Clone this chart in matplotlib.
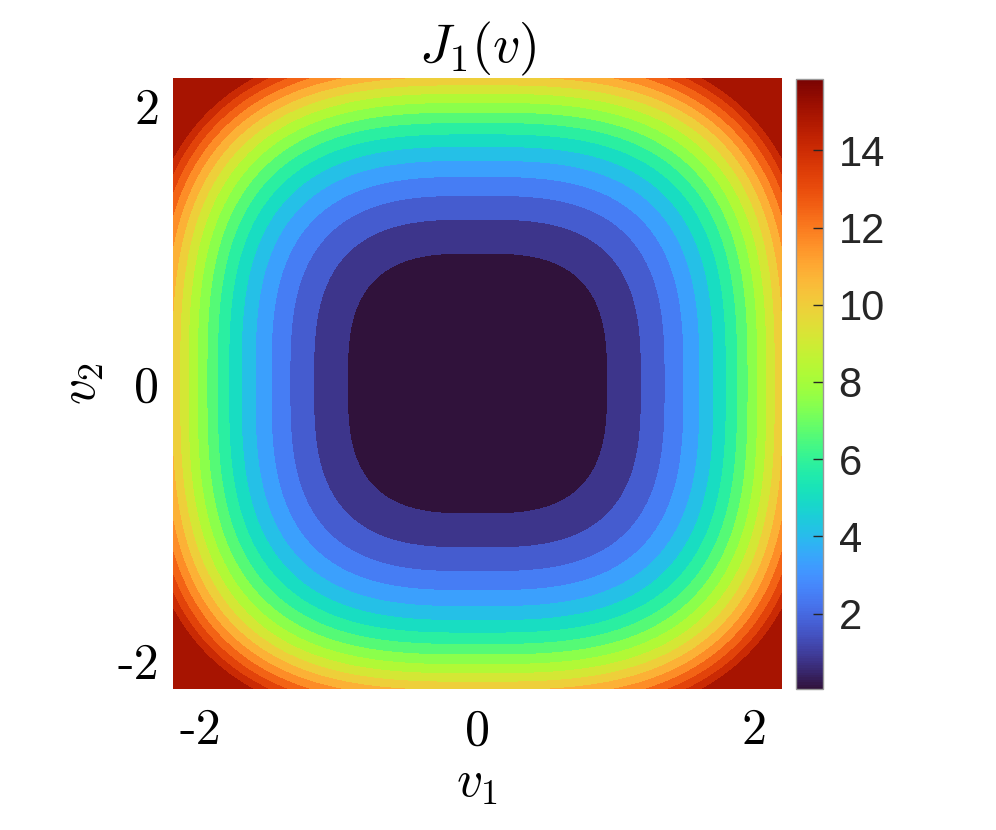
import numpy as np
import matplotlib
matplotlib.use("Agg")
import matplotlib.pyplot as plt
from matplotlib.colors import Normalize
from matplotlib.cm import ScalarMappable

plt.rcParams['mathtext.fontset'] = 'cm'
plt.rcParams['axes.unicode_minus'] = False

# grid and cost  J1(v) = |v1|^3 + |v2|^3
v_lim = 2.2
n_grid = 401
power = 3

# contour levels (MATLAB style, 0.83 step) and colour limits of the colorbar
level_step = 0.83
n_levels = 19
clim = [0.04, 15.84]

tick_vals = [-2, 0, 2]
tick_labels = ['-2', '0', '2']
cbar_ticks = [2, 4, 6, 8, 10, 12, 14]

v = np.linspace(-v_lim, v_lim, n_grid)
V1, V2 = np.meshgrid(v, v)
J = np.abs(V1) ** power + np.abs(V2) ** power

levels = np.arange(n_levels) * level_step
bounds = list(levels) + [J.max() + 1]

cmap = plt.get_cmap('turbo')
norm = Normalize(vmin=clim[0], vmax=clim[1])
band_colors = [cmap(norm(max(L, clim[0]))) for L in levels]

fig = plt.figure(figsize=(9.96, 8.3), dpi=100)
ax = fig.add_axes([0.1737, 0.1699, 0.6114, 0.7361])
ax.contourf(V1, V2, J, levels=bounds, colors=band_colors)
ax.set_xlim(-v_lim, v_lim)
ax.set_ylim(-v_lim, v_lim)

for s in ax.spines.values():
    s.set_visible(False)
ax.set_xticks(tick_vals)
ax.set_yticks(tick_vals)
ax.set_xticklabels(tick_labels, fontfamily='cmr10', fontsize=36)
ax.set_yticklabels(tick_labels, fontfamily='cmr10', fontsize=36)
ax.tick_params(axis='x', length=0, pad=14)
ax.tick_params(axis='y', length=0, pad=10)

ax.set_title(r'$J_1(v)$', fontsize=39, pad=6)
ax.set_xlabel(r'$v_1$', fontsize=37, labelpad=2)
ax.set_ylabel(r'$v_2$', fontsize=37, labelpad=8)

# colorbar
cax = fig.add_axes([0.7989, 0.1695, 0.0277, 0.7350])
sm = ScalarMappable(norm=norm, cmap=cmap)
cb = fig.colorbar(sm, cax=cax, ticks=cbar_ticks)
cb.outline.set_edgecolor('#999999')
cb.outline.set_linewidth(1.0)
cax.tick_params(direction='in', length=7, width=1, colors='#262626',
                labelsize=30, pad=11)
for t in cax.get_yticklabels():
    t.set_fontfamily('Liberation Sans')

fig.savefig('out.png', dpi=100)
